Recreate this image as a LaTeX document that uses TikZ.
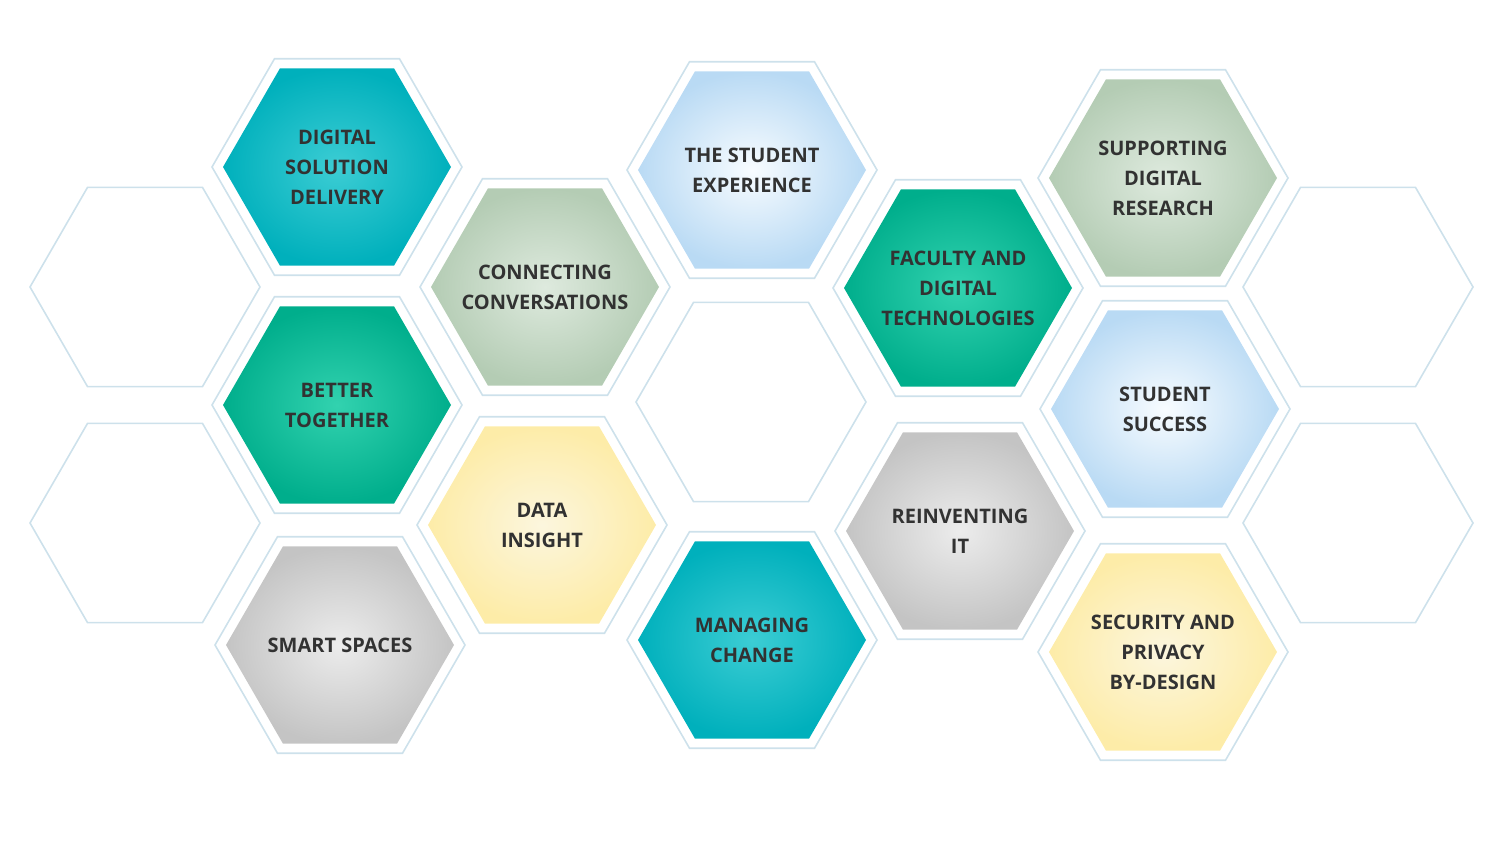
\documentclass[tikz,border=0pt]{standalone}
\usepackage{fontspec}
\setmainfont{Open Sans}
\begin{document}
\begin{tikzpicture}[x=1pt,y=-1pt,
  lbl/.style={align=center,font=\fontsize{20}{30}\selectfont\bfseries,text=txt},
  outl/.style={draw=olc,line width=1.6pt}]
\definecolor{txt}{RGB}{50,50,50}
\definecolor{olc}{RGB}{205,225,235}
\definecolor{tealO}{RGB}{0,176,188}\definecolor{tealI}{RGB}{60,205,212}
\definecolor{grnO}{RGB}{0,174,140}\definecolor{grnI}{RGB}{50,210,175}
\definecolor{sageO}{RGB}{180,204,180}\definecolor{sageI}{RGB}{222,234,222}
\definecolor{blueO}{RGB}{185,218,244}\definecolor{blueI}{RGB}{248,252,255}
\definecolor{yelO}{RGB}{253,236,168}\definecolor{yelI}{RGB}{252,246,222}
\definecolor{grayO}{RGB}{196,196,196}\definecolor{grayI}{RGB}{236,236,236}
\useasboundingbox (0,0) rectangle (1500,850);
\newcommand{\hexpath}[3]{(#1+#3,#2) -- (#1+#3/2,#2-0.866*#3) -- (#1-#3/2,#2-0.866*#3) -- (#1-#3,#2) -- (#1-#3/2,#2+0.866*#3) -- (#1+#3/2,#2+0.866*#3) -- cycle}
\newcommand{\hexcell}[6]{% x y color name text
  \draw[outl] \hexpath{#1}{#2}{125};
  \shade[inner color=#3I,outer color=#3O] \hexpath{#1}{#2}{114};
  \node[lbl] (#4) at (#1,#2) {#5};}
\newcommand{\hexempty}[2]{\draw[outl] \hexpath{#1}{#2}{115};}
\hexempty{145}{287}
\hexempty{145}{523}
\hexempty{751}{402}
\hexempty{1358}{287}
\hexempty{1358}{523}
\hexcell{337}{167}{teal}{dsd}{DIGITAL\\SOLUTION\\DELIVERY}{}
\hexcell{337}{405}{grn}{bt}{BETTER\\TOGETHER}{}
\hexcell{340}{645}{gray}{ss}{SMART SPACES}{}
\hexcell{545}{287}{sage}{cc}{CONNECTING\\CONVERSATIONS}{}
\hexcell{542}{525}{yel}{di}{DATA\\INSIGHT}{}
\hexcell{752}{170}{blue}{tse}{THE STUDENT\\EXPERIENCE}{}
\hexcell{752}{640}{teal}{mc}{MANAGING\\CHANGE}{}
\hexcell{958}{288}{grn}{fdt}{FACULTY AND\\DIGITAL\\TECHNOLOGIES}{}
\hexcell{960}{531}{gray}{rit}{REINVENTING\\IT}{}
\hexcell{1163}{178}{sage}{sdr}{SUPPORTING\\DIGITAL\\RESEARCH}{}
\hexcell{1165}{409}{blue}{stsu}{STUDENT\\SUCCESS}{}
\hexcell{1163}{652}{yel}{spd}{SECURITY AND\\PRIVACY\\BY-DESIGN}{}
\end{tikzpicture}
\end{document}
